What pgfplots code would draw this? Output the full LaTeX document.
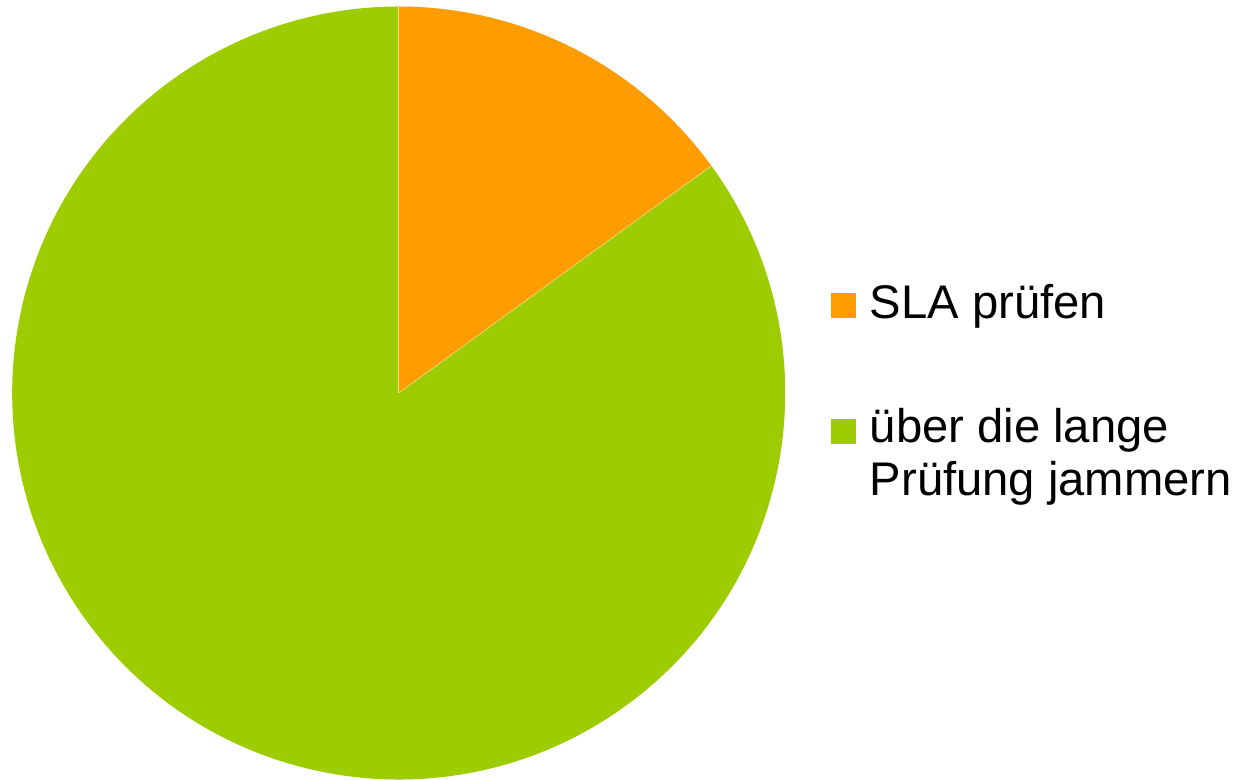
\documentclass[border=0pt]{standalone}
\usepackage{fontspec}
\setmainfont{Liberation Sans}
\usepackage{pgfplots}
\usepackage{pgfplotstable}
\pgfplotsset{compat=1.18}
\definecolor{pieorange}{HTML}{FF9C00}
\definecolor{piegreen}{HTML}{9DCC00}
\pgfplotstableread{
label value
SLA 15
jammern 85
}\pietable
\begin{document}
\begin{tikzpicture}
\pgfplotstablegetelem{0}{value}\of\pietable \let\va\pgfplotsretval
\pgfplotstablegetelem{1}{value}\of\pietable \let\vb\pgfplotsretval
\pgfmathsetmacro{\angA}{90-360*\va/(\va+\vb)}
\begin{axis}[
  scale only axis, width=621pt, height=390pt,
  xmin=0, xmax=1242, ymin=0, ymax=780,
  hide axis, xtick=\empty, ytick=\empty, clip=false,
  legend cell align=left,
  legend style={at={(axis cs:831.2,495.4)}, anchor=north west, draw=none, fill=none,
    inner sep=0pt, outer sep=0pt, font=\fontsize{23.6}{26.5}\selectfont,
    nodes={inner sep=0pt, align=left}, row sep=43.3pt, column sep=6.9pt},
]
\path (rel axis cs:0,0) rectangle (rel axis cs:1,1);
\addlegendimage{legend image code/.code={\fill[pieorange] (0pt,-7.2pt) rectangle (12pt,4.8pt);}}
\addlegendentry{SLA prüfen}
\addlegendimage{legend image code/.code={\fill[piegreen] (0pt,5.2pt) rectangle (12pt,17.2pt);}}
\addlegendentry{über die lange\\Prüfung jammern}
\fill[piegreen, overlay] (axis cs:398.7,387) -- ++(\angA:193.25pt) arc[start angle=\angA, end angle=-270, radius=193.25pt] -- cycle;
\fill[pieorange, overlay] (axis cs:398.7,387) -- ++(90:193.25pt) arc[start angle=90, end angle=\angA, radius=193.25pt] -- cycle;
\draw[white, opacity=0.5, line width=0.3pt, overlay] (axis cs:398.7,387) -- ++(90:193.25pt);
\draw[white, opacity=0.5, line width=0.3pt, overlay] (axis cs:398.7,387) -- ++(\angA:193.25pt);
\end{axis}
\end{tikzpicture}
\end{document}
